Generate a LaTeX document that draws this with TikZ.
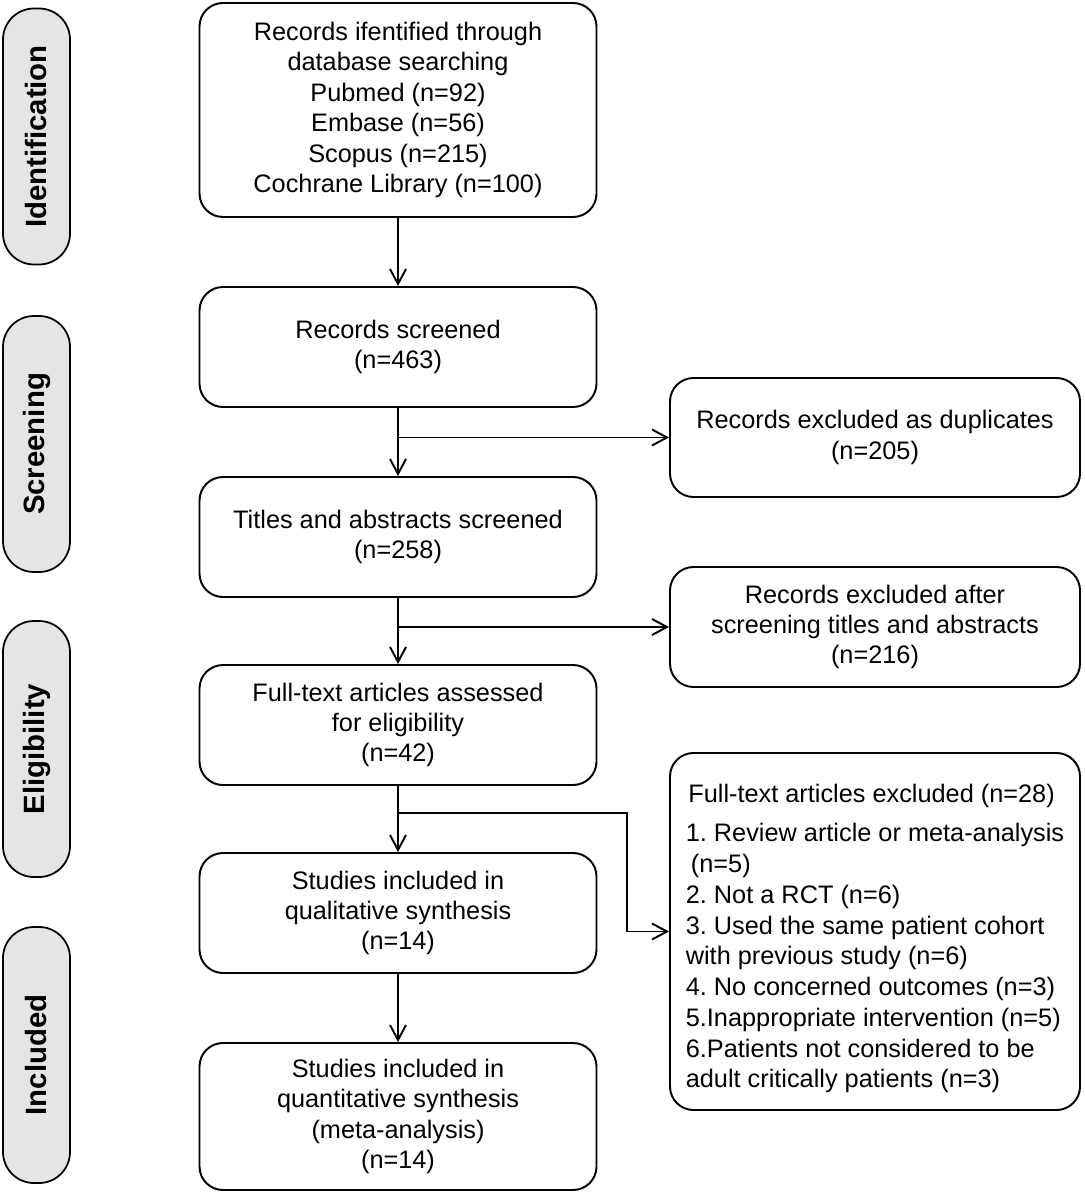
\documentclass[tikz,border=0pt]{standalone}
\usepackage{fontspec}
\setmainfont{Liberation Sans}
\usetikzlibrary{arrows.meta, calc, positioning}
\frenchspacing

\begin{document}
\begin{tikzpicture}[
    % Styles
    box/.style={ draw, line width=1.1pt, rounded corners=0.47cm, align=center, minimum width=7.94cm, minimum height=2.4cm, font=\fontsize{14.4}{17.3}\selectfont },
    sidebox/.style={ box, minimum width=8.2cm },
    phase/.style={ draw, line width=1pt, fill=black!10, rounded corners=0.62cm, rotate=90, minimum width=5.12cm, minimum height=1.34cm, font=\fontsize{16.7}{20}\selectfont\bfseries },
    flow/.style={ line width=1.1pt, -{Straight Barb[length=3mm, width=3.2mm, line width=1.1pt]} }, ]

  \useasboundingbox (0,0) rectangle (21.68,-23.88);

  % 1) Phase labels on the left
  \node[phase] (ident) at (0.73,-2.73)  {Identification};
  \node[phase] (scrn)  at (0.73,-8.88)  {Screening};
  \node[phase] (elig)  at (0.73,-14.98) {Eligibility};
  \node[phase] (incl)  at (0.73,-21.1)  {Included};

  % 2) Main column
  \node[box, minimum height=4.28cm] (found) at (7.96,-2.2)
  {Records ifentified through\\database searching\\Pubmed (n=92)\\Embase (n=56)\\Scopus (n=215)\\Cochrane Library (n=100)};
  \node[box] (screened) at (7.96,-6.94)  {Records screened\\(n=463)};
  \node[box] (titles)   at (7.96,-10.74) {Titles and abstracts screened\\(n=258)};
  \node[box] (fulltext) at (7.96,-14.5)  {Full-text articles assessed\\for eligibility\\(n=42)};
  \node[box] (qual)     at (7.96,-18.26) {Studies included in\\qualitative synthesis\\(n=14)};
  \node[box, minimum height=2.94cm] (quant) at (7.96,-22.33)
  {Studies included in\\quantitative synthesis\\(meta-analysis)\\(n=14)};

  % 3) Exclusion boxes on the right
  \node[sidebox, minimum height=2.38cm] (dupl) at (17.5,-8.75) {Records excluded as duplicates\\(n=205)};
  \node[sidebox] (excl) at (17.5,-12.54) {Records excluded after\\screening titles and abstracts\\(n=216)};
  \node[sidebox, minimum height=7.14cm, align=left, font=\fontsize{14.4}{17.5}\selectfont] (reasons) at (17.5,-18.63)
  {\rule{0pt}{18.5pt}\hspace{0.1em}Full-text articles excluded (n=28)\\[5pt]
    1. Review article or meta-analysis\\
    \hspace{0.2em}(n=5)\\
    2. Not a RCT (n=6)\\
    3. Used the same patient cohort\\
    with previous study (n=6)\\
    4. No concerned outcomes (n=3)\\
    5.Inappropriate intervention (n=5)\\
    6.Patients not considered to be\\
    adult critically patients (n=3)};

  % 4) Vertical flow
  \draw[flow] (found)    -- (screened);
  \draw[flow] (screened) -- (titles);
  \draw[flow] (titles)   -- (fulltext);
  \draw[flow] (fulltext) -- (qual);
  \draw[flow] (qual)     -- (quant);

  % 5) Branches to the exclusion boxes
  \draw[flow] (screened.south |- dupl.west) -- (dupl.west);
  \draw[flow] (titles.south |- excl.west) -- (excl.west);
  \coordinate (split) at ($(fulltext.south)!0.41!(qual.north)$);
  \draw[flow] (split) -| ([xshift=-0.84cm]reasons.west) -- (reasons.west);
\end{tikzpicture}
\end{document}
